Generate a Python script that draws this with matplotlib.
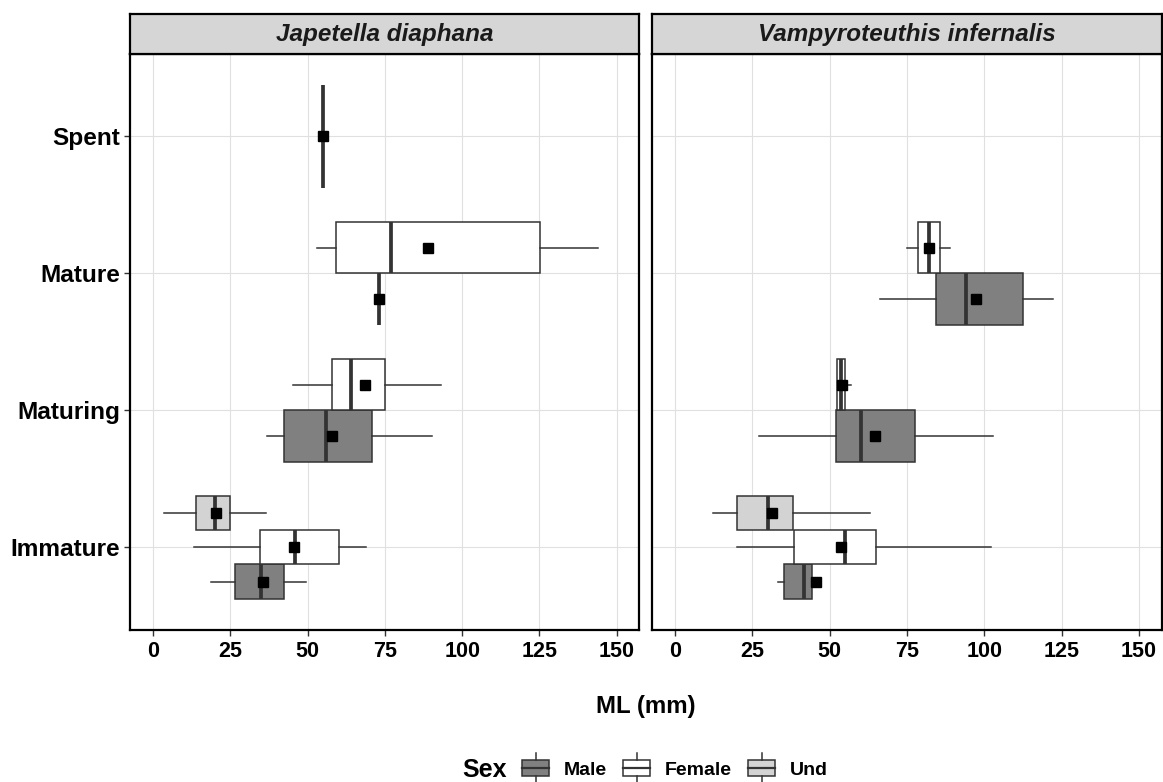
import matplotlib
matplotlib.use("Agg")
import matplotlib.pyplot as plt
from matplotlib.legend_handler import HandlerBase
from matplotlib.patches import Rectangle, Patch
from matplotlib.lines import Line2D

plt.rcParams['font.family'] = ['Liberation Sans', 'DejaVu Sans']
plt.rcParams['font.weight'] = 'bold'

species = ["Japetella diaphana", "Vampyroteuthis infernalis"]
stages = ["Immature", "Maturing", "Mature", "Spent"]
sexes = ["Male", "Female", "Und"]
sex_colors = {"Male": "#808080", "Female": "#FFFFFF", "Und": "#D3D3D3"}
x_ticks = [0, 25, 50, 75, 100, 125, 150]

# Japetella diaphana
jd_stage = ["Immature", "Immature", "Immature", "Maturing", "Maturing", "Mature", "Mature", "Spent"]
jd_sex = ["Male", "Female", "Und", "Male", "Female", "Male", "Female", "Female"]
jd_lo = [18.7, 13.4, 3.6, 37.0, 45.2, 73.0, 53.2, 55.0]
jd_q1 = [26.6, 34.5, 13.8, 42.4, 58.0, 73.0, 59.1, 55.0]
jd_med = [35.0, 45.9, 20.1, 56.1, 63.9, 73.0, 77.1, 55.0]
jd_q3 = [42.5, 60.2, 24.8, 70.9, 75.2, 73.0, 125.1, 55.0]
jd_hi = [49.4, 69.0, 36.5, 90.1, 93.1, 73.0, 144.0, 55.0]
jd_mean = [35.6, 45.6, 20.4, 58.0, 68.5, 73.0, 88.9, 55.0]

# Vampyroteuthis infernalis
vi_stage = ["Immature", "Immature", "Immature", "Maturing", "Maturing", "Mature", "Mature"]
vi_sex = ["Male", "Female", "Und", "Male", "Female", "Male", "Female"]
vi_lo = [33.2, 20.0, 12.2, 27.2, 52.5, 66.2, 75.1]
vi_q1 = [35.1, 38.3, 20.0, 51.9, 52.5, 84.2, 78.5]
vi_med = [41.8, 54.9, 29.9, 60.0, 53.6, 94.0, 82.0]
vi_q3 = [44.3, 65.0, 38.2, 77.5, 55.1, 112.6, 85.6]
vi_hi = [44.3, 102.0, 63.0, 102.8, 57.0, 122.3, 88.9]
vi_mean = [45.7, 53.6, 31.5, 64.7, 53.9, 97.2, 82.0]

panels = [
    (jd_stage, jd_sex, jd_lo, jd_q1, jd_med, jd_q3, jd_hi, jd_mean),
    (vi_stage, vi_sex, vi_lo, vi_q1, vi_med, vi_q3, vi_hi, vi_mean),
]

W, H = 1163, 782
fig = plt.figure(figsize=(W / 100, H / 100), dpi=100)
fig.patch.set_facecolor("white")

EDGE = "#333333"
panel_x = [(130.3, 639.3), (652.3, 1161.7)]
py0, py1 = 54.0, 629.5
strip_top = 14.0
DODGE = 0.75

for pi, (xl, xr) in enumerate(panel_x):
    ax = fig.add_axes([xl / W, 1 - py1 / H, (xr - xl) / W, (py1 - py0) / H])
    st, sx, lo, q1, med, q3, hi, mn = panels[pi]
    for i in range(len(st)):
        s_idx = stages.index(st[i]) + 1
        present = [s for s in sexes if any(st[j] == st[i] and sx[j] == s for j in range(len(st)))]
        n = len(present)
        w = DODGE / n
        k = present.index(sx[i])
        pos = s_idx - DODGE / 2 + w * (k + 0.5)
        stats = [dict(whislo=lo[i], q1=q1[i], med=med[i], q3=q3[i], whishi=hi[i], fliers=[])]
        ax.bxp(stats, positions=[pos], widths=[w], orientation='horizontal',
               patch_artist=True, showcaps=False, showfliers=False, manage_ticks=False,
               boxprops=dict(facecolor=sex_colors[sx[i]], edgecolor=EDGE, linewidth=1.1),
               medianprops=dict(color=EDGE, linewidth=2.7, solid_capstyle='butt'),
               whiskerprops=dict(color=EDGE, linewidth=1.1), zorder=3)
        ax.plot([mn[i]], [pos], marker='s', color='black', markersize=7.5,
                linestyle='none', zorder=5)
    ax.set_xlim(-7.34, 157.3)
    ax.set_ylim(0.4, 4.6)
    ax.set_xticks(x_ticks)
    ax.set_xticklabels([str(t) for t in x_ticks], fontsize=15.5, fontweight='bold')
    ax.set_yticks([1, 2, 3, 4])
    if pi == 0:
        ax.set_yticklabels(stages, fontsize=17.6, fontweight='bold')
        ax.tick_params(axis='y', length=4.5, width=1, color=EDGE, pad=3)
    else:
        ax.set_yticklabels([])
        ax.tick_params(axis='y', length=0)
    ax.tick_params(axis='x', length=4.5, width=1, color=EDGE, pad=4)
    ax.grid(True, color='#E0E0E0', linewidth=0.8, zorder=0)
    ax.set_axisbelow(True)
    for sp in ax.spines.values():
        sp.set_color('black')
        sp.set_linewidth(1.6)
    # strip
    sax = fig.add_axes([xl / W, 1 - py0 / H, (xr - xl) / W, (py0 - strip_top) / H])
    sax.set_facecolor('#D6D6D6')
    sax.set_xticks([])
    sax.set_yticks([])
    for sp in sax.spines.values():
        sp.set_color('black')
        sp.set_linewidth(1.6)
    sax.text(0.5, 0.5, species[pi], transform=sax.transAxes, ha='center', va='center',
             fontsize=17.5, fontstyle='italic', fontweight='bold', color='#1A1A1A')

fig.text(645.5 / W, 1 - 706 / H, "ML (mm)", ha='center', va='center',
         fontsize=17.3, fontweight='bold')


class BoxHandler(HandlerBase):
    def create_artists(self, legend, orig_handle, xdescent, ydescent, width, height,
                       fontsize, trans):
        fc = orig_handle.get_facecolor()
        cy = height / 2 - ydescent
        bh = 12.0
        stub = 4.5
        x0 = -xdescent
        rect = Rectangle((x0, cy - bh / 2), width, bh, facecolor=fc, edgecolor=EDGE,
                         linewidth=1.1, transform=trans)
        med = Line2D([x0, x0 + width], [cy, cy], color=EDGE, linewidth=1.6, transform=trans)
        s1 = Line2D([x0 + width / 2] * 2, [cy + bh / 2, cy + bh / 2 + stub], color=EDGE,
                    linewidth=1.1, transform=trans)
        s2 = Line2D([x0 + width / 2] * 2, [cy - bh / 2, cy - bh / 2 - stub], color=EDGE,
                    linewidth=1.1, transform=trans)
        return [rect, med, s1, s2]


handles = [Patch(facecolor=sex_colors[s], edgecolor=EDGE) for s in sexes]
leg = fig.legend(handles, sexes, loc='center', bbox_to_anchor=(675 / W, 1 - 770 / H),
                 ncol=3, frameon=False, handler_map={Patch: BoxHandler()},
                 prop=dict(size=14, weight='bold'), handlelength=1.39,
                 handletextpad=0.77, columnspacing=0.82)
fig.text(462 / W, 1 - 770 / H, "Sex", ha='left', va='center', fontsize=18,
         fontweight='bold')

fig.savefig("out.png", dpi=100, facecolor='white')
